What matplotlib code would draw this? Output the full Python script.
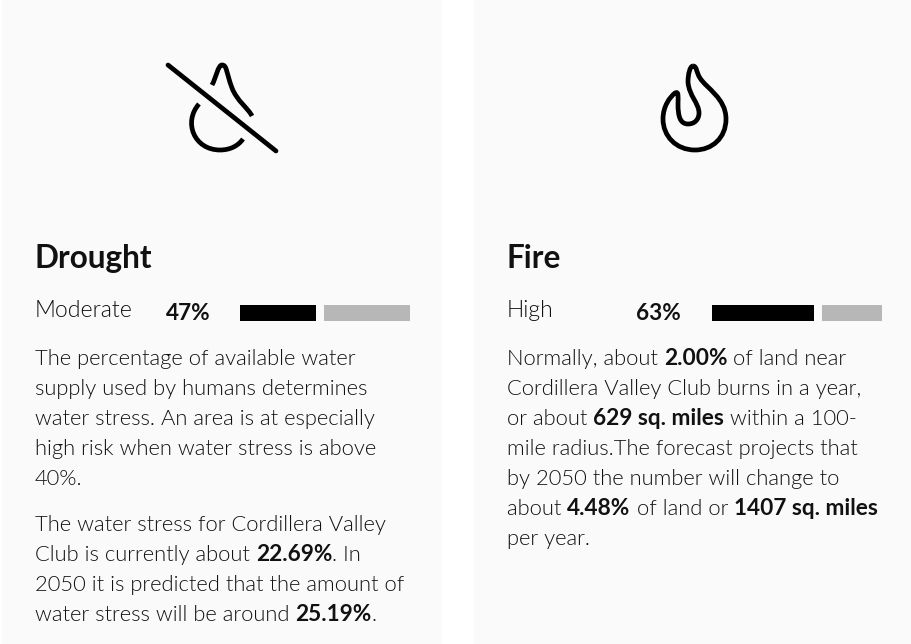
import matplotlib
matplotlib.use('Agg')
import matplotlib.pyplot as plt
from matplotlib.patches import PathPatch, Rectangle
from matplotlib.path import Path

plt.rcParams['font.family'] = ['Lato', 'DejaVu Sans']

titles = ['Drought', 'Fire']
levels = ['Moderate', 'High']
percents = [47, 63]

# each line is a list of (text, bold) runs
drought_lines = [
    [('The percentage of available water', False)],
    [('supply used by humans determines', False)],
    [('water stress. An area is at especially', False)],
    [('high risk when water stress is above', False)],
    [('40%.', False)],
]
drought_lines2 = [
    [('The water stress for Cordillera Valley', False)],
    [('Club is currently about ', False), ('22.69%', True), ('. In', False)],
    [('2050 it is predicted that the amount of', False)],
    [('water stress will be around ', False), ('25.19%', True), ('.', False)],
]
fire_lines = [
    [('Normally, about ', False), ('2.00%', True), (' of land near', False)],
    [('Cordillera Valley Club burns in a year,', False)],
    [('or about ', False), ('629 sq. miles', True), (' within a 100-', False)],
    [('mile radius.The forecast projects that', False)],
    [('by 2050 the number will change to', False)],
    [('about ', False), ('4.48%', True), (' of land or ', False), ('1407 sq. miles', True)],
    [('per year.', False)],
]

BODY = 15.85
BOLD = 16.3
DARK = '#111111'

fig = plt.figure(figsize=(9.12, 6.44), dpi=100)
ax = fig.add_axes([0, 0, 1, 1])
ax.set_xlim(0, 912)
ax.set_ylim(644, 0)
ax.axis('off')


def draw_runs(x, y, runs):
    r = fig.canvas.get_renderer()
    for s, bold in runs:
        t = ax.text(x, y, s, fontsize=BOLD if bold else BODY, color=DARK, va='baseline',
                    fontweight='bold' if bold else 300)
        x += t.get_window_extent(r).width


def draw_block(x, y, lines):
    for i, runs in enumerate(lines):
        draw_runs(x, y + i * 30, runs)


# panels
ax.add_patch(Rectangle((2, 0), 440, 644, color='#fafafa', lw=0))
ax.add_patch(Rectangle((474, 0), 438, 644, color='#fafafa', lw=0))

# drought icon
ax.plot([168, 276], [65, 151], color='black', lw=3.4, solid_capstyle='round')
drop_top = Path([(212, 85), (216, 78), (218, 65), (222, 65), (227, 65), (226, 72),
                 (232, 88), (237, 101), (248, 108), (252, 116)],
                [Path.MOVETO] + [Path.CURVE4] * 9)
drop_arc = Path([(199, 104), (183, 122), (194, 150), (220, 150), (230, 150),
                 (238, 146), (243, 139)],
                [Path.MOVETO] + [Path.CURVE4] * 6)
for p in [drop_top, drop_arc]:
    ax.add_patch(PathPatch(p, fc='none', ec='black', lw=3.4, capstyle='butt'))

# fire icon
flame = Path([(693, 66), (697, 66), (696, 72), (700, 78), (706, 88), (726, 98), (726, 119),
              (726, 138), (712, 150), (695, 150), (676, 150), (663, 136), (663, 119),
              (663, 106), (670, 97), (675, 93), (679, 91), (678, 96), (678, 104),
              (678, 116), (680, 124), (688, 124), (695, 124), (699, 119), (699, 113),
              (699, 103), (689, 96), (688, 82), (688, 74), (690, 66), (693, 66)],
             [Path.MOVETO] + [Path.CURVE4] * 30)
ax.add_patch(PathPatch(flame, fc='none', ec='black', lw=3.4, joinstyle='round'))

# headings, levels, bars
text_x = [35, 507]
pct_x = [166, 636]
bar_x = [240, 712]
bar_total = 162
bar_gap = 8
for i in range(2):
    ax.text(text_x[i], 268, titles[i], fontsize=22.7, fontweight='bold', color=DARK, va='baseline')
    ax.text(text_x[i], 317, levels[i], fontsize=16.6, fontweight=300, color=DARK, va='baseline')
    ax.text(pct_x[i], 320, '%d%%' % percents[i], fontsize=16.3, fontweight='bold', color=DARK, va='baseline')
    done = bar_total * percents[i] / 100
    ax.barh(313, done, height=16, left=bar_x[i], color='black', lw=0)
    ax.barh(313, bar_total - done, height=16, left=bar_x[i] + done + bar_gap, color='#b7b7b7', lw=0)

draw_block(35, 365, drought_lines)
draw_block(35, 531, drought_lines2)
draw_block(507, 365, fire_lines)

ax.set_xlim(0, 912)
ax.set_ylim(644, 0)
fig.savefig('out.png', dpi=100, facecolor='white')
